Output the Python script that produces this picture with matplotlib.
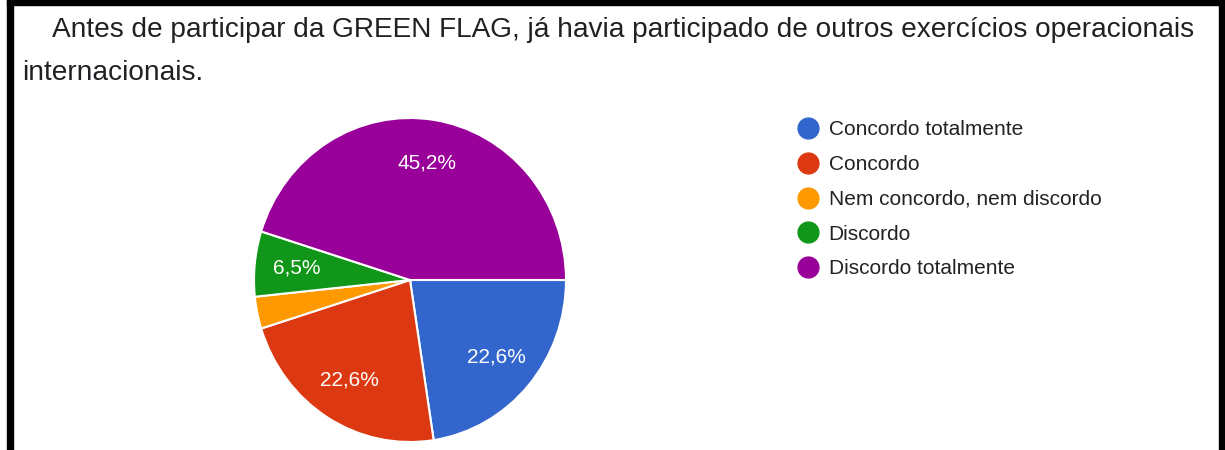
import matplotlib
matplotlib.use("Agg")
import matplotlib.pyplot as plt
from matplotlib.lines import Line2D
from matplotlib.patches import Rectangle

plt.rcParams['font.family'] = ['Liberation Sans', 'DejaVu Sans']

title_line1 = "Antes de participar da GREEN FLAG, já havia participado de outros exercícios operacionais"
title_line2 = "internacionais."
categories = ["Concordo totalmente", "Concordo", "Nem concordo, nem discordo",
              "Discordo", "Discordo totalmente"]
percent = [22.6, 22.6, 3.2, 6.5, 45.2]
colors = ["#3366cc", "#dc3912", "#ff9900", "#109618", "#990099"]

W, H = 1225, 450
fig = plt.figure(figsize=(W / 100, H / 100), dpi=100)
fig.patch.set_facecolor("white")

# frame (left, right, top) like the screenshot
fig.patches.append(Rectangle((7 / W, 0), 6 / W, 1, transform=fig.transFigure,
                             color="black", zorder=10))
fig.patches.append(Rectangle((1219 / W, 0), 6 / W, 1, transform=fig.transFigure,
                             color="black", zorder=10))
fig.patches.append(Rectangle((7 / W, 1 - 5 / H), 1, 5 / H, transform=fig.transFigure,
                             color="black", zorder=10))

fig.text(52 / W, 1 - 30 / H, title_line1, fontsize=20.2, color="#202124", va="center", ha="left")
fig.text(22 / W, 1 - 73 / H, title_line2, fontsize=20.2, color="#202124", va="center", ha="left")

# pie, slightly taller than wide as in the screenshot
cx, cy, rx, ry = 410, 280, 156, 162
ax = fig.add_axes(((cx - rx) / W, (H - cy - ry) / H, 2 * rx / W, 2 * ry / H))
labels = [f"{p:.1f}%".replace(".", ",") if p > 5 else "" for p in percent]
wedges, texts = ax.pie(percent, colors=colors, startangle=0, counterclock=False,
                       labels=labels, labeldistance=0.73,
                       wedgeprops=dict(edgecolor="white", linewidth=1.5),
                       textprops=dict(color="white", fontsize=15, ha="center", va="center"))
ax.set_aspect("auto")
ax.set_xlim(-1, 1)
ax.set_ylim(-1, 1)

handles = [Line2D([], [], marker="o", linestyle="none", markersize=15,
                  markerfacecolor=c, markeredgecolor=c) for c in colors]
fig.legend(handles, categories, loc="upper left", bbox_to_anchor=(788 / W, 1 - 110 / H),
           frameon=False, fontsize=15, handlelength=0.93, handletextpad=0.52,
           labelspacing=0.755, borderpad=0, labelcolor="#222222")

fig.savefig("out.png", dpi=100)
